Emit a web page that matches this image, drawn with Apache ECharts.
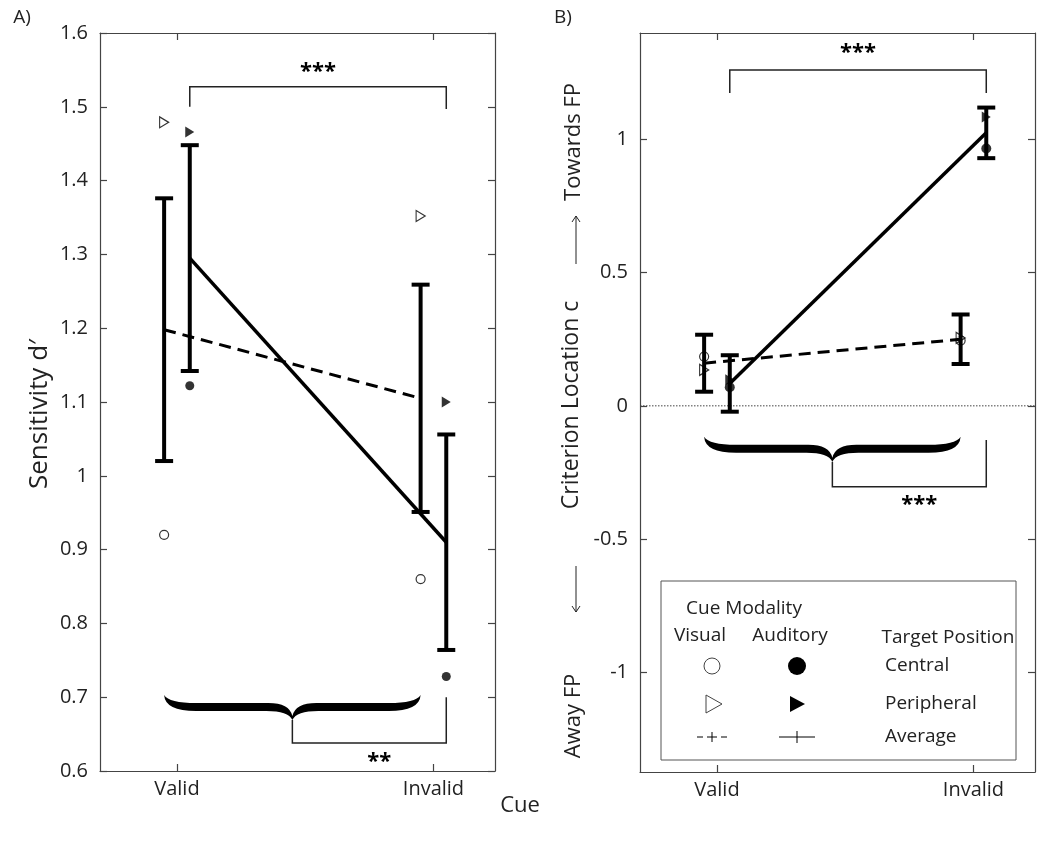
<!DOCTYPE html>
<html><head><meta charset="utf-8">
<script src="https://cdn.jsdelivr.net/npm/echarts@6/dist/echarts.min.js"></script>
<style>html,body{margin:0;padding:0;background:#fff}#c{width:1042px;height:848px}</style>
</head><body><div id="c"></div>
<script>
// ---------- data ----------
const categories = ['Valid', 'Invalid'];
const catPos = [1, 2];
// Panel A: Sensitivity d'
const aVisAvg = [1.198, 1.105];
const aVisErr = [0.178, 0.154];
const aAudAvg = [1.295, 0.910];
const aAudErr = [0.153, 0.146];
const aVisCentral = [0.920, 0.860];
const aVisPeripheral = [1.479, 1.352];
const aAudCentral = [1.122, 0.728];
const aAudPeripheral = [1.466, 1.100];
// Panel B: Criterion location c
const bVisAvg = [0.160, 0.250];
const bVisErr = [0.107, 0.093];
const bAudAvg = [0.084, 1.025];
const bAudErr = [0.106, 0.095];
const bVisCentral = [0.185, 0.245];
const bVisPeripheral = [0.135, 0.255];
const bAudCentral = [0.070, 0.966];
const bAudPeripheral = [0.098, 1.085];
const aTickLabels = [0.6, 0.7, 0.8, 0.9, 1, 1.1, 1.2, 1.3, 1.4, 1.5, 1.6];
const bTickLabels = [-1, -0.5, 0, 0.5, 1];

const VIS_OFF = -0.05, AUD_OFF = 0.05;
const FONT = '"Open Sans", "Noto Sans", sans-serif';
const TXT = '#222', AX = '#444';

const chart = echarts.init(document.getElementById('c'), null, {renderer: 'canvas'});

function xAxes(grid) {
  const common = {type: 'value', min: 0.7, max: 2.24, gridIndex: grid, splitLine: {show: false},
    axisLine: {show: true, onZero: false, lineStyle: {color: AX, width: 1.2}},
    axisTick: {show: true, inside: true, length: 7, customValues: catPos, lineStyle: {color: AX, width: 1.2}}};
  return [
    Object.assign({}, common, {position: 'bottom',
      axisLabel: {show: true, customValues: catPos, formatter: v => categories[catPos.indexOf(Math.round(v))] || '',
        fontSize: 20, color: TXT, fontFamily: FONT, margin: 8}}),
    Object.assign({}, common, {position: 'top', axisLabel: {show: false}})
  ];
}
function yAxes(grid, min, max, ticks) {
  const common = {type: 'value', min: min, max: max, gridIndex: grid, splitLine: {show: false},
    axisLine: {show: true, onZero: false, lineStyle: {color: AX, width: 1.2}},
    axisTick: {show: true, inside: true, length: 7, customValues: ticks, lineStyle: {color: AX, width: 1.2}}};
  return [
    Object.assign({}, common, {position: 'left',
      axisLabel: {show: true, customValues: ticks, formatter: v => String(Math.round(v * 10) / 10),
        fontSize: 20, color: TXT, fontFamily: FONT, margin: 12}}),
    Object.assign({}, common, {position: 'right', axisLabel: {show: false}})
  ];
}

function errSeries(ax, off, avg, err) {
  return {type: 'custom', xAxisIndex: ax, yAxisIndex: ax, z: 6, silent: true,
    data: catPos.map((p, i) => [p + off, avg[i] - err[i], avg[i] + err[i]]),
    encode: {x: 0, y: [1, 2]},
    renderItem: (params, api) => {
      const lo = api.coord([api.value(0), api.value(1)]);
      const hi = api.coord([api.value(0), api.value(2)]);
      const w = 9, st = {stroke: '#000', lineWidth: 4};
      return {type: 'group', children: [
        {type: 'line', shape: {x1: lo[0], y1: lo[1] , x2: hi[0], y2: hi[1]}, style: st},
        {type: 'line', shape: {x1: lo[0] - w, y1: lo[1], x2: lo[0] + w, y2: lo[1]}, style: st},
        {type: 'line', shape: {x1: hi[0] - w, y1: hi[1], x2: hi[0] + w, y2: hi[1]}, style: st}
      ]};
    }};
}
function avgLine(ax, off, avg, dashed) {
  return {type: 'line', xAxisIndex: ax, yAxisIndex: ax, z: 5, silent: true, symbol: 'none',
    data: catPos.map((p, i) => [p + off, avg[i]]),
    lineStyle: {color: '#000', width: dashed ? 3 : 3.5, type: dashed ? [12, 7] : 'solid'}};
}
const TRI = 'path://M0,0L10,6L0,12Z';
function markers(ax, off, vals, symbol, filled, size) {
  return {type: 'scatter', xAxisIndex: ax, yAxisIndex: ax, z: 4, silent: true,
    symbol: symbol, symbolSize: size,
    data: catPos.map((p, i) => [p + off, vals[i]]),
    itemStyle: {color: filled ? '#000' : '#fff', borderColor: '#000', borderWidth: filled ? 0 : 1.2}};
}

function bracePath(x0, x1, yt) {
  const xm = (x0 + x1) / 2, yb = yt + 12, yc = yt + 25, th = 4;
  return `M${x0},${yt} Q${x0 + 1},${yb + th} ${x0 + 32},${yb + th} L${xm - 26},${yb + th} ` +
    `Q${xm - 4},${yb + th} ${xm},${yc} Q${xm + 4},${yb + th} ${xm + 26},${yb + th} ` +
    `L${x1 - 32},${yb + th} Q${x1 - 1},${yb + th} ${x1},${yt} ` +
    `Q${x1 - 5},${yb - th} ${x1 - 32},${yb - th} L${xm + 24},${yb - th} ` +
    `Q${xm + 3},${yb - th} ${xm},${yc - 4} Q${xm - 3},${yb - th} ${xm - 24},${yb - th} ` +
    `L${x0 + 32},${yb - th} Q${x0 + 5},${yb - th} ${x0},${yt} Z`;
}
function starText(x, y, t) {
  return {type: 'text', style: {text: t, x: x, y: y, align: 'center', verticalAlign: 'middle',
    textAlign: 'center', textVerticalAlign: 'middle', fill: '#000', font: 'bold 22px ' + FONT}};
}
// annotations: significance brackets and braces (drawn in data coords)
function annotations(ax, cfg) {
  return {type: 'custom', xAxisIndex: ax, yAxisIndex: ax, z: 7, silent: true, data: [[1, 1]],
    renderItem: (params, api) => {
      const st = {stroke: '#222', lineWidth: 1.5, fill: null};
      const xa = api.coord([1 + AUD_OFF, cfg.topBar])[0];
      const xb = api.coord([2 + AUD_OFF, cfg.topBar])[0];
      const yTop = api.coord([1, cfg.topBar])[1];
      const yLegL = api.coord([1, cfg.topLegL])[1];
      const yLegR = api.coord([1, cfg.topLegR])[1];
      const yStar = api.coord([1, cfg.topStar])[1];
      const bx0 = api.coord([1 + VIS_OFF, 0])[0];
      const bx1 = api.coord([2 + VIS_OFF, 0])[0];
      const yBr = api.coord([1, cfg.brace])[1];
      const yBot = api.coord([1, cfg.botBar])[1];
      const yRleg = api.coord([1, cfg.botLegR])[1];
      const yStar2 = api.coord([1, cfg.botStar])[1];
      const xm = (bx0 + bx1) / 2;
      return {type: 'group', children: [
        {type: 'polyline', shape: {points: [[xa, yLegL], [xa, yTop], [xb, yTop], [xb, yLegR]]}, style: st},
        starText((xa + xb) / 2, yStar, '***'),
        {type: 'path', shape: {pathData: bracePath(bx0, bx1, yBr)}, style: {fill: '#000'}},
        {type: 'polyline', shape: {points: [[xm, yBr + 25], [xm, yBot], [xb, yBot], [xb, yRleg]]}, style: st},
        starText((xm + xb) / 2 + 0.5 * (xb - xm) * 0.13, yStar2, cfg.botText)
      ]};
    }};
}

function t(x, y, text, size, align, rot) {
  const el = {type: 'text', x: x, y: y,
    style: {text: text, font: size + 'px ' + FONT, fill: TXT, align: align || 'center', verticalAlign: 'middle',
      textAlign: align || 'center', textVerticalAlign: 'middle'}};
  if (rot) el.rotation = rot;
  return el;
}
const L = {stroke: '#000', lineWidth: 1};
const option = {
  animation: false,
  backgroundColor: '#fff',
  grid: [
    {left: 100, top: 33, width: 395, height: 738},
    {left: 640, top: 33, width: 395, height: 739}
  ],
  xAxis: [...xAxes(0), ...xAxes(1)],
  yAxis: [...yAxes(0, 0.6, 1.6, aTickLabels), ...yAxes(1, -1.375, 1.4, bTickLabels)],
  series: [
    // zero reference line in B
    {type: 'line', xAxisIndex: 2, yAxisIndex: 2, symbol: 'none', silent: true, z: 2,
      data: [[0.7, 0], [2.24, 0]], lineStyle: {color: '#444', width: 1, type: [1.5, 1.5]}},
    // Panel A
    markers(0, VIS_OFF, aVisCentral, 'circle', false, 9),
    markers(0, VIS_OFF, aVisPeripheral, TRI, false, [9, 11]),
    markers(0, AUD_OFF, aAudCentral, 'circle', true, 9),
    markers(0, AUD_OFF, aAudPeripheral, TRI, true, [9, 11]),
    avgLine(0, VIS_OFF, aVisAvg, true),
    avgLine(0, AUD_OFF, aAudAvg, false),
    errSeries(0, VIS_OFF, aVisAvg, aVisErr),
    errSeries(0, AUD_OFF, aAudAvg, aAudErr),
    annotations(0, {topBar: 1.527, topLegL: 1.50, topLegR: 1.497, topStar: 1.548,
      brace: 0.703, botBar: 0.638, botLegR: 0.700, botStar: 0.612, botText: '**'}),
    // Panel B
    markers(2, VIS_OFF, bVisCentral, 'circle', false, 9),
    markers(2, VIS_OFF, bVisPeripheral, TRI, false, [9, 11]),
    markers(2, AUD_OFF, bAudCentral, 'circle', true, 10),
    markers(2, AUD_OFF, bAudPeripheral, TRI, true, [9, 11]),
    avgLine(2, VIS_OFF, bVisAvg, true),
    avgLine(2, AUD_OFF, bAudAvg, false),
    errSeries(2, VIS_OFF, bVisAvg, bVisErr),
    errSeries(2, AUD_OFF, bAudAvg, bAudErr),
    annotations(2, {topBar: 1.261, topLegL: 1.175, topLegR: 1.175, topStar: 1.325,
      brace: -0.116, botBar: -0.304, botLegR: -0.128, botStar: -0.372, botText: '***'})
  ],
  graphic: [
    t(22, 18, 'A)', 19),
    t(563, 18, 'B)', 19),
    t(40, 414, 'Sensitivity d\u2032', 26, 'center', Math.PI / 2),
    t(520, 806, 'Cue', 22),
    // Panel B y label pieces
    t(574, 142, 'Towards FP', 22, 'center', Math.PI / 2),
    t(571, 405, 'Criterion Location c', 23, 'center', Math.PI / 2),
    t(574, 716, 'Away FP', 22, 'center', Math.PI / 2),
    {type: 'line', shape: {x1: 576, y1: 264, x2: 576, y2: 216}, style: {stroke: TXT, lineWidth: 1}},
    {type: 'polyline', shape: {points: [[572, 222], [576, 216], [580, 222]]}, style: {stroke: TXT, lineWidth: 1, fill: null}},
    {type: 'line', shape: {x1: 576, y1: 566, x2: 576, y2: 612}, style: {stroke: TXT, lineWidth: 1}},
    {type: 'polyline', shape: {points: [[572, 606], [576, 612], [580, 606]]}, style: {stroke: TXT, lineWidth: 1, fill: null}},
    // Legend
    {type: 'group', z: 100, children: [
      {type: 'rect', shape: {x: 661, y: 581, width: 355, height: 179}, style: {fill: '#fff', stroke: '#555', lineWidth: 1}},
      t(744, 609, 'Cue Modality', 19),
      t(700, 636, 'Visual', 19),
      t(790, 636, 'Auditory', 19),
      t(948, 638, 'Target Position', 19),
      {type: 'circle', shape: {cx: 712, cy: 666, r: 8}, style: {fill: '#fff', stroke: '#444', lineWidth: 1}},
      {type: 'circle', shape: {cx: 797, cy: 666, r: 9}, style: {fill: '#000'}},
      t(885, 666, 'Central', 19, 'left'),
      {type: 'polygon', shape: {points: [[706, 695], [722, 704], [706, 713]]}, style: {fill: '#fff', stroke: '#444', lineWidth: 1}},
      {type: 'polygon', shape: {points: [[790, 696], [805, 704], [790, 712]]}, style: {fill: '#000'}},
      t(885, 704, 'Peripheral', 19, 'left'),
      {type: 'line', shape: {x1: 697, y1: 737, x2: 703, y2: 737}, style: L},
      {type: 'line', shape: {x1: 707, y1: 737, x2: 717, y2: 737}, style: L},
      {type: 'line', shape: {x1: 712, y1: 732, x2: 712, y2: 742}, style: L},
      {type: 'line', shape: {x1: 721, y1: 737, x2: 727, y2: 737}, style: L},
      {type: 'line', shape: {x1: 779, y1: 737, x2: 815, y2: 737}, style: L},
      {type: 'line', shape: {x1: 797, y1: 731, x2: 797, y2: 743}, style: L},
      t(885, 737, 'Average', 19, 'left')
    ]}
  ]
};
chart.setOption(option);
</script>
</body></html>
